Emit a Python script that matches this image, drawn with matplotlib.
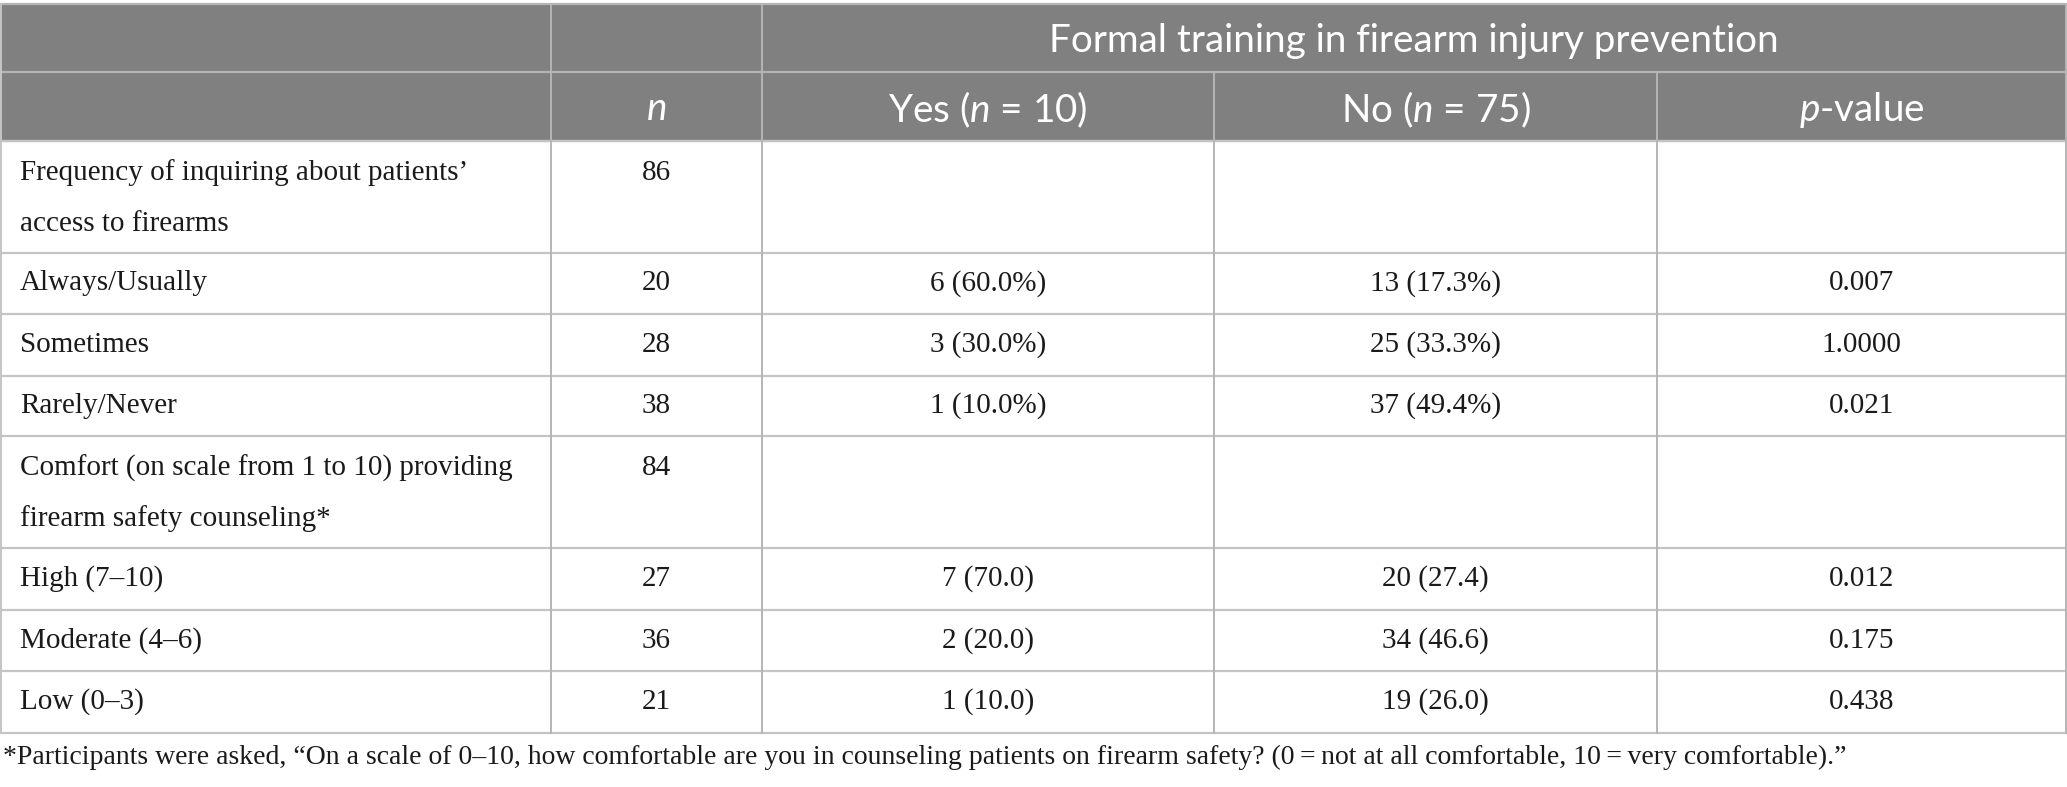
import matplotlib.pyplot as plt
from matplotlib.patches import Rectangle

plt.rcParams['mathtext.fontset'] = 'custom'
plt.rcParams['mathtext.rm'] = 'Lato'
plt.rcParams['mathtext.it'] = 'Lato:italic'

# contenu du tableau
row_labels = [
    'Frequency of inquiring about patients\u2019\naccess to firearms',
    'Always/Usually', 'Sometimes', 'Rarely/Never',
    'Comfort (on scale from 1 to 10) providing\nfirearm safety counseling*',
    'High (7\u201310)', 'Moderate (4\u20136)', 'Low (0\u20133)',
]
n_values = ['86', '20', '28', '38', '84', '27', '36', '21']
yes_values = ['', '6 (60.0%)', '3 (30.0%)', '1 (10.0%)', '', '7 (70.0)', '2 (20.0)', '1 (10.0)']
no_values = ['', '13 (17.3%)', '25 (33.3%)', '37 (49.4%)', '', '20 (27.4)', '34 (46.6)', '19 (26.0)']
p_values = ['', '0.007', '1.0000', '0.021', '', '0.012', '0.175', '0.438']

span_header = 'Formal training in firearm injury prevention'
col_headers = ['$n$', 'Yes ($n$ = 10)', 'No ($n$ = 75)', '$p$-value']
footnote = ('*Participants were asked, \u201cOn a scale of 0\u201310, how comfortable are you in counseling '
            'patients on firearm safety? (0\u2009=\u2009not at all comfortable, 10\u2009=\u2009very comfortable).\u201d')

# géométrie (pixels)
W, H = 2067, 787
col_edges = [1, 551, 762, 1214, 1657, 2066]
head_edges = [4, 72, 141]
row_edges = [141, 253, 314, 376, 436, 548, 610, 671, 733]
grey = '#808080'
line_col = '#c4c4c4'

fig = plt.figure(figsize=(W / 100, H / 100), dpi=100)
ax = fig.add_axes([0, 0, 1, 1])
ax.set_xlim(0, W)
ax.set_ylim(H, 0)
ax.axis('off')

# en-tête gris
ax.add_patch(Rectangle((col_edges[0], head_edges[0]), col_edges[-1] - col_edges[0],
                       head_edges[-1] - head_edges[0], color=grey, lw=0))

# lignes horizontales
for y in head_edges:
    ax.plot([col_edges[0], col_edges[-1]], [y, y], color='#b5b5b5', lw=1.6)
for y in row_edges:
    ax.plot([col_edges[0], col_edges[-1]], [y, y], color=line_col, lw=1.6)

# lignes verticales
for i, x in enumerate(col_edges):
    top = head_edges[0] if i in (0, 1, 2, 5) else head_edges[1]
    ax.plot([x, x], [top, row_edges[-1]], color='#b5b5b5' if i else line_col, lw=1.4)

hfont = dict(family='Lato', size=27.8, color='white')
bfont = dict(family='Liberation Serif', size=21, color='#1a1a1a')

ax.text((col_edges[2] + col_edges[-1]) / 2, (head_edges[0] + head_edges[1]) / 2 + 3, span_header,
        ha='center', va='center', **hfont)
for j, lab in enumerate(col_headers):
    ax.text((col_edges[j + 1] + col_edges[j + 2]) / 2, (head_edges[1] + head_edges[2]) / 2 + 3, lab,
            ha='center', va='center', **hfont)

columns = [n_values, yes_values, no_values, p_values]
for i, lab in enumerate(row_labels):
    top, bot = row_edges[i], row_edges[i + 1]
    if '\n' in lab:
        yc = top + 32
        first, second = lab.split('\n')
        ax.text(20, yc, first, ha='left', va='center', **bfont)
        ax.text(20, top + 83, second, ha='left', va='center', **bfont)
    else:
        yc = (top + bot) / 2
        ax.text(20, yc, lab, ha='left', va='center', **bfont)
    for j, vals in enumerate(columns):
        if vals[i]:
            ax.text((col_edges[j + 1] + col_edges[j + 2]) / 2, yc, vals[i], ha='center', va='center', **bfont)

ax.text(3, 757, footnote, ha='left', va='center', family='Liberation Serif', size=20, color='#1a1a1a')

fig.savefig('out.png', dpi=100)
